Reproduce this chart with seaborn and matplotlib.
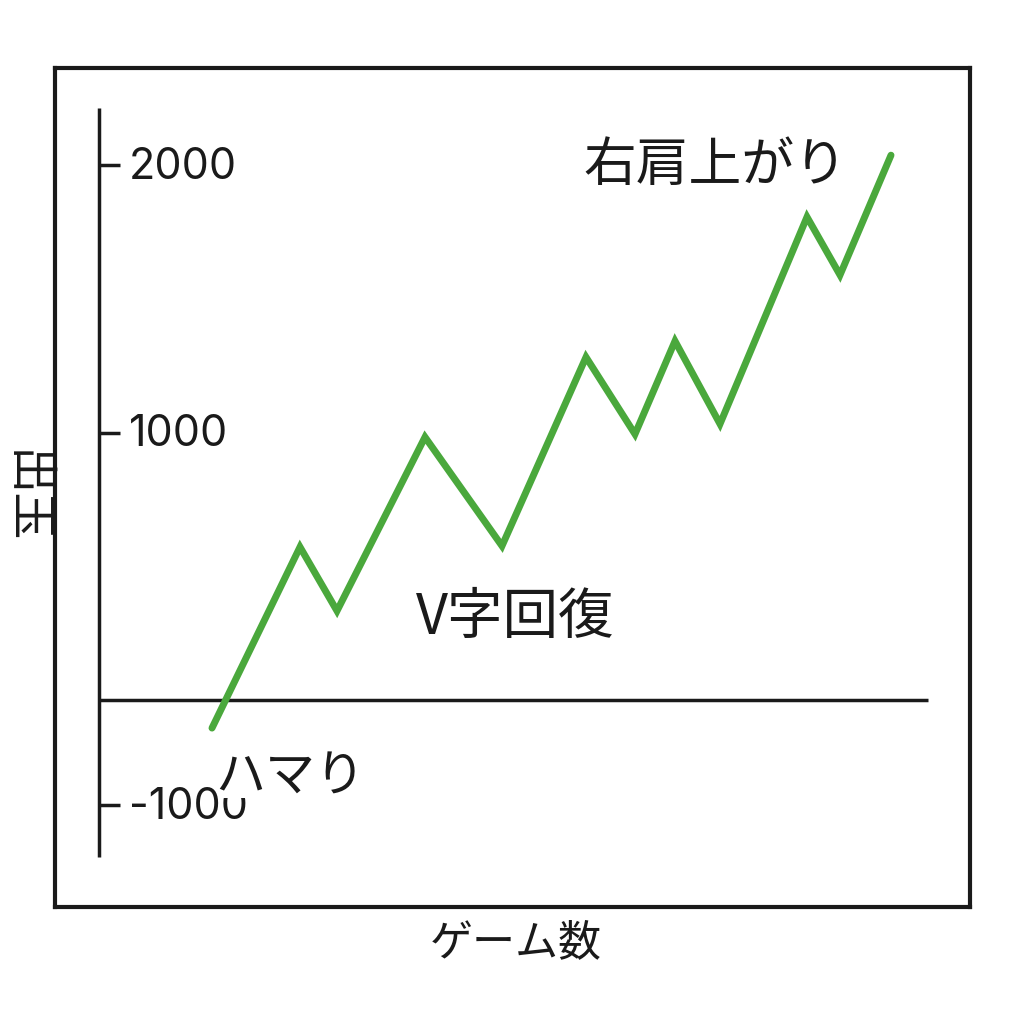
import matplotlib
matplotlib.use("Agg")
import matplotlib.pyplot as plt
import seaborn as sns
import pandas as pd

# game count vs. medal balance
games = [1130, 2010, 2380, 3260, 4030, 4870, 5360, 5760, 6210, 7080, 7410, 7920]
medals = [-105, 572, 333, 983, 576, 1282, 994, 1342, 1032, 1806, 1589, 2037]

tick_pos = [-393, 1000, 2000]
tick_labels = ["-1000", "1000", "2000"]

sns.set_style("white")
plt.rcParams["font.family"] = ["Noto Sans CJK JP", "DejaVu Sans"]

df = pd.DataFrame({"games": games, "medals": medals})

fig = plt.figure(figsize=(10.24, 10.24), dpi=100)
ax = fig.add_axes([55 / 1024, 1 - 907 / 1024, 915 / 1024, 839 / 1024])

ink = "#1a1a1a"
green = "#4aa83c"

# outer frame
for s in ax.spines.values():
    s.set_visible(True)
    s.set_linewidth(3)
    s.set_color(ink)
ax.set_xticks([])
ax.set_yticks([])
ax.set_xlim(-440, 8710)
ax.set_ylim(-774, 2363)

# hand drawn axes
ax.vlines(0, -587, 2213, color=ink, lw=2.5)
ax.hlines(0, 0, 8290, color=ink, lw=2.5)
ax.hlines(tick_pos, 0, 210, color=ink, lw=2.5)
for p, lab in zip(tick_pos, tick_labels):
    ax.text(300, p - 8, lab, fontsize=31, family="Inter", va="center", ha="left",
            color=ink, zorder=2)

sns.lineplot(data=df, x="games", y="medals", ax=ax, color=green, linewidth=5,
             solid_capstyle="round", solid_joinstyle="miter", zorder=3)
ax.set_xlabel("")
ax.set_ylabel("")

ax.text(6160, 2000, "右肩上がり", fontsize=38, ha="center", va="center", color=ink)
ax.text(4160, 307, "V字回復", fontsize=40, ha="center", va="center", color=ink)
ax.text(1160, -290, "ハマり", fontsize=36, ha="left", va="center", color=ink, zorder=4,
        bbox=dict(facecolor="white", edgecolor="none", boxstyle="square,pad=-0.12"))

fig.text(516 / 1024, 1 - 943 / 1024, "ゲーム数", fontsize=31, ha="center", va="center", color=ink)
fig.text(25 / 1024, 1 - 497 / 1024, "出玉", fontsize=34, ha="center", va="center",
         rotation=270, color=ink)

fig.savefig("out.png", dpi=100, facecolor="white")
plt.close(fig)
